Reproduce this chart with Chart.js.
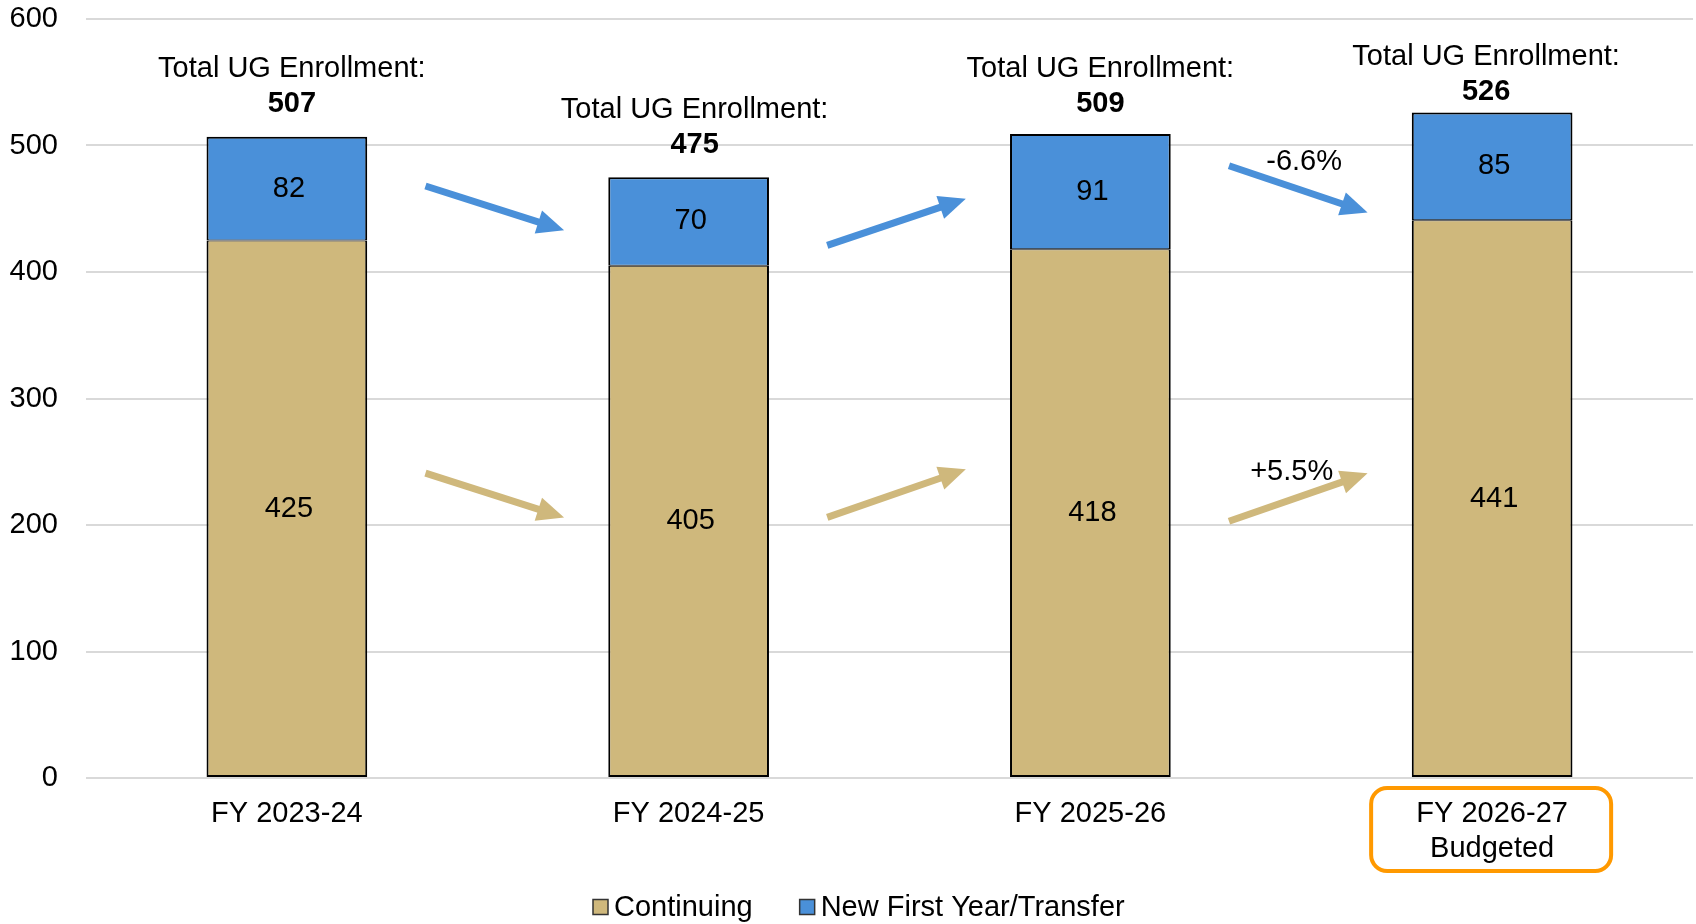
<!DOCTYPE html>
<html>
<head>
<meta charset="utf-8">
<title>Total UG Enrollment</title>
<script src="https://cdn.jsdelivr.net/npm/chart.js@4.4.1/dist/chart.umd.min.js"></script>
<style>
  html, body { margin: 0; padding: 0; background: #fff; }
  #wrap { position: relative; width: 1696px; height: 924px; }
</style>
</head>
<body>
<div id="wrap"><canvas id="enrollChart"></canvas></div>
<script>
// enrollment by fiscal year, split into continuing and new students
const categories = [['FY 2023-24'], ['FY 2024-25'], ['FY 2025-26'], ['FY 2026-27', 'Budgeted']];
const continuing = [425, 405, 418, 441];
const newFirstYear = [82, 70, 91, 85];
const yTicks = [0, 100, 200, 300, 400, 500, 600];
const seriesNames = ['Continuing', 'New First Year/Transfer'];

// trend arrows between bars: [from index, to index, start value, end value]
const blueArrows = [[0, 1, 468, 433], [1, 2, 421, 458], [2, 3, 484, 447]];
const goldArrows = [[0, 1, 241, 206], [1, 2, 206, 244], [2, 3, 203, 241]];

// where the "Total UG Enrollment" captions sit relative to each stack top (px)
const captionLift = [33, 32, 30, 21];
const captionShift = [5, 6, 10, -6];

const GOLD = '#CFB87C';
const BLUE = '#4A90D9';
const FONT = "'Liberation Sans', Arial, Helvetica, sans-serif";
const FS = 29;

const totals = continuing.map((v, i) => v + newFirstYear[i]);

function pctChange(a, b) {
    const p = (b - a) / a * 100;
    return (p > 0 ? '+' : '') + p.toFixed(1) + '%';
}

function drawArrow(ctx, x1, y1, x2, y2, color) {
    const ang = Math.atan2(y2 - y1, x2 - x1);
    const head = 27, half = 12;
    const bx = x2 - head * Math.cos(ang), by = y2 - head * Math.sin(ang);
    ctx.save();
    ctx.strokeStyle = color;
    ctx.fillStyle = color;
    ctx.lineWidth = 7;
    ctx.beginPath();
    ctx.moveTo(x1, y1);
    ctx.lineTo(bx + 2 * Math.cos(ang), by + 2 * Math.sin(ang));
    ctx.stroke();
    ctx.beginPath();
    ctx.moveTo(x2, y2);
    ctx.lineTo(bx - half * Math.sin(ang), by + half * Math.cos(ang));
    ctx.lineTo(bx + half * Math.sin(ang), by - half * Math.cos(ang));
    ctx.closePath();
    ctx.fill();
    ctx.restore();
}

const overlayPlugin = {
    id: 'overlay',
    afterDatasetsDraw(chart) {
        const ctx = chart.ctx;
        const xs = chart.scales.x, ys = chart.scales.y;
        ctx.save();
        ctx.fillStyle = '#000';
        ctx.textAlign = 'center';
        ctx.textBaseline = 'middle';
        ctx.font = FS + 'px ' + FONT;

        // values inside each segment
        chart.data.datasets.forEach((ds, di) => {
            chart.getDatasetMeta(di).data.forEach((bar, i) => {
                ctx.fillText(ds.data[i], bar.x + 2, (bar.y + bar.base) / 2);
            });
        });

        // totals above each stack
        chart.getDatasetMeta(1).data.forEach((bar, i) => {
            const cx = bar.x + captionShift[i];
            const cy = bar.y - captionLift[i];
            ctx.font = FS + 'px ' + FONT;
            ctx.fillText('Total UG Enrollment:', cx, cy - 35);
            ctx.font = 'bold ' + FS + 'px ' + FONT;
            ctx.fillText(totals[i], cx, cy);
        });

        // trend arrows
        const off0 = 0.345, off1 = 0.69;
        blueArrows.forEach(a => drawArrow(ctx,
            xs.getPixelForValue(a[0] + off0), ys.getPixelForValue(a[2]),
            xs.getPixelForValue(a[0] + off1), ys.getPixelForValue(a[3]), BLUE));
        goldArrows.forEach(a => drawArrow(ctx,
            xs.getPixelForValue(a[0] + off0), ys.getPixelForValue(a[2]),
            xs.getPixelForValue(a[0] + off1), ys.getPixelForValue(a[3]), GOLD));

        // percent change for the budgeted year
        ctx.font = FS + 'px ' + FONT;
        ctx.fillStyle = '#000';
        ctx.fillText(pctChange(newFirstYear[2], newFirstYear[3]), xs.getPixelForValue(2.532), ys.getPixelForValue(487));
        ctx.fillText(pctChange(continuing[2], continuing[3]), xs.getPixelForValue(2.501), ys.getPixelForValue(242));

        // highlight box around the budgeted label
        const bx = xs.getPixelForTick(3);
        ctx.strokeStyle = '#FF9900';
        ctx.lineWidth = 4;
        ctx.beginPath();
        ctx.roundRect(bx - 121, xs.top + 10, 240, 83, 16);
        ctx.stroke();

        // legend
        const items = [
            { text: seriesNames[0], color: GOLD },
            { text: seriesNames[1], color: BLUE }
        ];
        const box = 15, gap = 6, spacing = 47;
        let lx = 593;
        const ly = 907;
        ctx.textAlign = 'left';
        items.forEach(it => {
            const w = ctx.measureText(it.text).width;
            ctx.fillStyle = it.color;
            ctx.fillRect(lx, ly - box / 2, box, box);
            ctx.strokeStyle = '#333';
            ctx.lineWidth = 1.5;
            ctx.strokeRect(lx, ly - box / 2, box, box);
            ctx.fillStyle = '#000';
            ctx.fillText(it.text, lx + box + gap, ly + 1);
            lx += box + gap + w + spacing;
        });
        ctx.restore();
    }
};

const ctx = document.getElementById('enrollChart').getContext('2d');
const enrollChart = new Chart(ctx, {
    type: 'bar',
    data: {
        labels: categories,
        datasets: [{
            label: seriesNames[0],
            data: continuing,
            backgroundColor: GOLD,
            borderColor: '#000',
            borderWidth: { top: 1, left: 2, right: 2, bottom: 2 },
            borderSkipped: false
        }, {
            label: seriesNames[1],
            data: newFirstYear,
            backgroundColor: BLUE,
            borderColor: '#000',
            borderWidth: { top: 2, left: 2, right: 2, bottom: 1 },
            borderSkipped: false
        }]
    },
    options: {
        responsive: true,
        maintainAspectRatio: false,
        animation: false,
        categoryPercentage: 0.8,
        barPercentage: 0.5,
        layout: { padding: { top: 19, right: 3, left: 0, bottom: 0 } },
        plugins: {
            legend: { display: false },
            tooltip: { enabled: false }
        },
        scales: {
            x: {
                stacked: true,
                grid: { display: false, drawTicks: false },
                border: { display: false },
                ticks: {
                    color: '#000',
                    padding: 18,
                    font: { family: FONT, size: FS, lineHeight: 1.22 }
                },
                afterFit(scale) { scale.height = 146; }
            },
            y: {
                stacked: true,
                min: 0,
                max: 600,
                afterBuildTicks(scale) { scale.ticks = yTicks.map(v => ({ value: v })); },
                grid: { color: '#d9d9d9', lineWidth: 2, drawTicks: false },
                border: { display: false },
                ticks: {
                    color: '#000',
                    padding: 28,
                    font: { family: FONT, size: FS }
                },
                afterFit(scale) {
                    scale.width = 86;
                    scale.paddingTop = 0;
                    scale.paddingBottom = 0;
                }
            }
        }
    },
    plugins: [overlayPlugin]
});
</script>
</body>
</html>
